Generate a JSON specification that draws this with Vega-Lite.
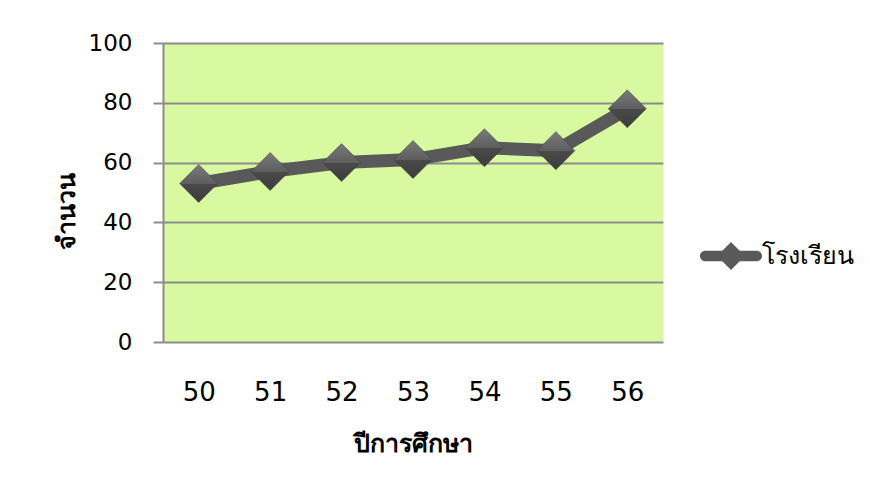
{
  "$schema": "https://vega.github.io/schema/vega-lite/v6.json",
  "width": 500,
  "height": 299,
  "autosize": {"type": "none"},
  "padding": {"left": 163, "top": 43, "right": 207, "bottom": 151},
  "background": "#ffffff",
  "config": {
    "font": "Tahoma, DejaVu Sans, sans-serif",
    "view": {"stroke": null, "fill": "#d8f9a0"}
  },
  "data": {
    "values": [
      {"year": "50", "value": 53, "series": "โรงเรียน"},
      {"year": "51", "value": 57, "series": "โรงเรียน"},
      {"year": "52", "value": 60, "series": "โรงเรียน"},
      {"year": "53", "value": 61, "series": "โรงเรียน"},
      {"year": "54", "value": 65, "series": "โรงเรียน"},
      {"year": "55", "value": 64, "series": "โรงเรียน"},
      {"year": "56", "value": 78, "series": "โรงเรียน"}
    ]
  },
  "encoding": {
    "x": {
      "field": "year",
      "type": "ordinal",
      "scale": {"type": "point", "padding": 0.5},
      "axis": {
        "title": "ปีการศึกษา",
        "labelAngle": 0,
        "labelFontSize": 26,
        "labelColor": "#000000",
        "labelPadding": 37,
        "domain": false,
        "ticks": false,
        "grid": false,
        "titleFontSize": 25,
        "titleFontWeight": "bold",
        "titleColor": "#000000",
        "titleBaseline": "middle",
        "titleY": 101
      }
    },
    "y": {
      "field": "value",
      "type": "quantitative",
      "scale": {"domain": [0, 100], "nice": false},
      "axis": {
        "title": "จำนวน",
        "values": [0, 20, 40, 60, 80, 100],
        "labelFontSize": 23,
        "labelColor": "#000000",
        "labelPadding": 21,
        "tickSize": 10,
        "tickColor": "#8c8c8c",
        "tickWidth": 2,
        "domainColor": "#8c8c8c",
        "domainWidth": 2,
        "gridColor": "#8c8c8c",
        "gridWidth": 2,
        "gridOpacity": 1,
        "titleFontSize": 25,
        "titleFontWeight": "bold",
        "titleColor": "#000000",
        "titleBaseline": "middle",
        "titleX": -97,
        "titleY": 168
      }
    }
  },
  "layer": [
    {
      "mark": {"type": "line", "strokeWidth": 13, "strokeCap": "round", "strokeJoin": "round"},
      "encoding": {
        "color": {
          "field": "series",
          "type": "nominal",
          "scale": {"range": ["#595959"]},
          "legend": {
            "title": null,
            "orient": "none",
            "legendX": 537,
            "legendY": 182,
            "symbolType": "M-0.83,-0.17L0.83,-0.17A0.17,0.17 0 0 1 0.83,0.17L-0.83,0.17A0.17,0.17 0 0 1 -0.83,-0.17ZM-0.45,0L0,-0.45L0.45,0L0,0.45Z",
            "symbolSize": 3844,
            "labelFontSize": 25,
            "labelColor": "#000000",
            "labelOffset": 0,
            "encode": {
              "symbols": {
                "update": {
                  "fill": {"value": "#595959"},
                  "stroke": {"value": "#595959"},
                  "strokeWidth": {"value": 0},
                  "opacity": {"value": 1}
                }
              }
            }
          }
        }
      }
    },
    {
      "mark": {
        "type": "point",
        "shape": "diamond",
        "size": 1444,
        "filled": true,
        "opacity": 1,
        "stroke": "#3a3a3a",
        "strokeWidth": 0.5,
        "fill": {
          "gradient": "linear",
          "x1": 0, "y1": 0, "x2": 0, "y2": 1,
          "stops": [
            {"offset": 0, "color": "#7a7a7a"},
            {"offset": 0.5, "color": "#5e5e5e"},
            {"offset": 0.5, "color": "#4a4a4a"},
            {"offset": 1, "color": "#3c3c3c"}
          ]
        }
      }
    }
  ]
}
